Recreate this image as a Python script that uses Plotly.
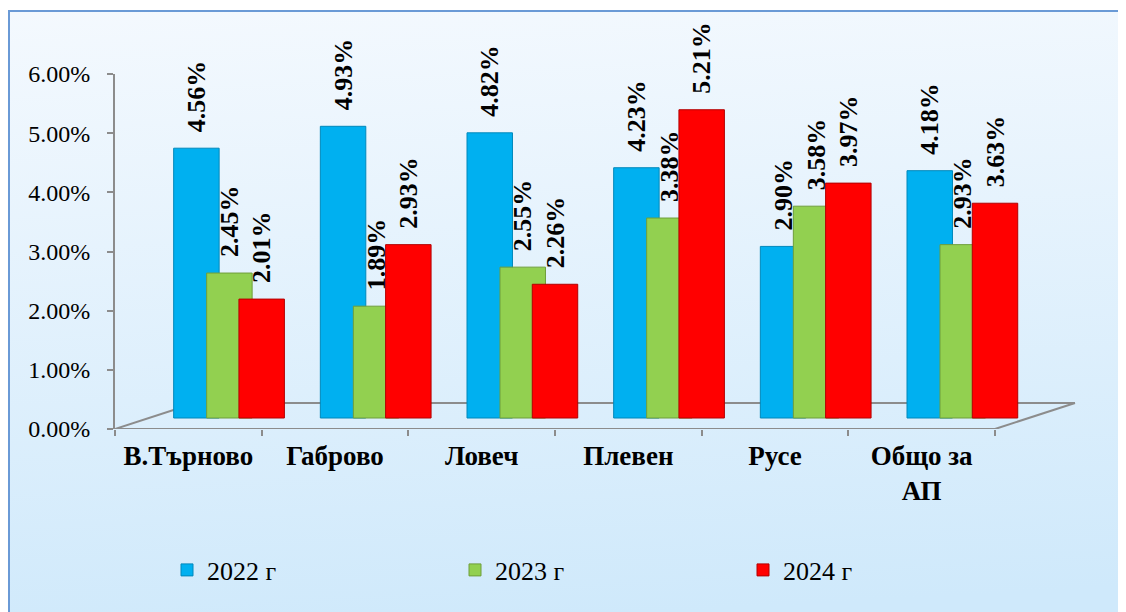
import base64
import plotly.graph_objects as go

categories = ["В.Търново", "Габрово", "Ловеч", "Плевен", "Русе", "Общо за<br>АП"]
series_names = ["2022 г", "2023 г", "2024 г"]
values_2022 = [4.56, 4.93, 4.82, 4.23, 2.90, 4.18]
values_2023 = [2.45, 1.89, 2.55, 3.38, 3.58, 2.93]
values_2024 = [2.01, 2.93, 2.26, 5.21, 3.97, 3.63]
tick_values = [0, 1, 2, 3, 4, 5, 6]

colors = ["#00b0f0", "#92d050", "#ff0000"]
edge_colors = ["#0088bb", "#6f9e3a", "#b30000"]
offsets = [-0.10, 0.125, 0.345]
bar_width = 0.31
FONT = "'Liberation Serif', 'Times New Roman', Tinos, 'DejaVu Serif', serif"

W, H = 1126, 612
PAGE = 8  # html body margin offset


def fx(p):  # screen px -> figure px
    return p - PAGE


# plot area in screen px
SL, SR, ST, SB = 115, 1080, 74, 429
L, R, T, B = fx(SL), W - fx(SR), fx(ST), H - fx(SB)
pw, ph = W - L - R, H - T - B
cat_px = 880 / 6.0
x_max = 5.5 + (SR - 115 - 880) / cat_px
y_px = ph / 6.0
bar_shift = 11 / y_px

fig = go.Figure()
for name, vals, col, ec, off in zip(series_names, [values_2022, values_2023, values_2024],
                                    colors, edge_colors, offsets):
    fig.add_trace(go.Bar(
        x=categories, y=vals, name=name, yaxis="y2",
        offset=off, width=bar_width,
        marker=dict(color=col, line=dict(color=ec, width=1)),
        texttemplate="\u00a0\u00a0%{y:.2f}%", textposition="outside", textangle=-90,
        constraintext="none", cliponaxis=False,
        textfont=dict(family=FONT, size=26, color="black", weight="bold"),
    ))

# gradient background
svg = ('<svg xmlns="http://www.w3.org/2000/svg" width="100" height="100" viewBox="0 0 100 100" '
       'preserveAspectRatio="none"><defs><linearGradient id="g" x1="0" y1="0" x2="0.1" y2="1">'
       '<stop offset="0" stop-color="#f4f9fe"/><stop offset="1" stop-color="#cfe9fb"/>'
       '</linearGradient></defs><rect width="100" height="100" fill="url(#g)"/></svg>')
src = "data:image/svg+xml;base64," + base64.b64encode(svg.encode()).decode()


def px_x(p):  # screen px -> paper x
    return (fx(p) - L) / pw


def px_y(p):  # screen px -> paper y
    return (H - B - fx(p)) / ph


images = [dict(source=src, xref="paper", yref="paper",
               x=px_x(8), y=px_y(10), sizex=(W + 20) / pw, sizey=(H + 20) / ph,
               xanchor="left", yanchor="top", sizing="stretch", layer="below")]

floor_y = 26 / y_px
back_dx = 80 / cat_px
line_style = dict(color="#8c8c8c", width=2)
shapes = [
    dict(type="rect", xref="paper", yref="paper", x0=px_x(9), y0=px_y(11), x1=px_x(W + 40),
         y1=px_y(H + 40), line=dict(color="#6a9ad6", width=2), fillcolor="rgba(0,0,0,0)", layer="below"),
    dict(type="line", xref="x", yref="y", x0=-0.5, y0=0, x1=-0.5 + back_dx, y1=floor_y,
         line=line_style, layer="below"),
    dict(type="line", xref="x", yref="y", x0=-0.5 + back_dx, y0=floor_y, x1=5.5 + back_dx, y1=floor_y,
         line=line_style, layer="below"),
    dict(type="line", xref="x", yref="y", x0=5.5 + back_dx, y0=floor_y, x1=5.5, y1=0,
         line=line_style, layer="below"),
    dict(type="line", xref="x", yref="y", x0=-0.5, y0=0, x1=5.5, y1=0,
         line=line_style, layer="below"),
]

fig.update_layout(
    width=W, height=H,
    margin=dict(l=L, r=R, t=T, b=B, autoexpand=False),
    paper_bgcolor="white", plot_bgcolor="rgba(0,0,0,0)",
    font=dict(family=FONT),
    barmode="overlay",
    images=images, shapes=shapes,
    xaxis=dict(type="category", range=[-0.5, x_max], showline=False, showgrid=False, zeroline=False,
               automargin=False,
               ticks="outside", tickson="boundaries", ticklen=6, tickcolor="#8c8c8c", tickwidth=2,
               ticklabelstandoff=8,
               tickfont=dict(family=FONT, size=27, color="black", weight="bold")),
    yaxis=dict(range=[0, 6], tickvals=tick_values, ticktext=[f"{v:.2f}%" for v in tick_values],
               automargin=False,
               showline=True, linecolor="#8c8c8c", linewidth=2, showgrid=False, zeroline=False,
               ticks="outside", ticklen=6, tickcolor="#8c8c8c", tickwidth=2, ticklabelstandoff=12,
               tickfont=dict(family=FONT, size=24, color="black")),
    yaxis2=dict(range=[-bar_shift, 6 - bar_shift], overlaying="y", visible=False),
    legend=dict(orientation="h", xref="container", yref="container",
                x=fx(599) / W, xanchor="center", y=1 - fx(570) / H, yanchor="middle",
                entrywidth=243, entrywidthmode="pixels", bgcolor="rgba(0,0,0,0)",
                font=dict(family=FONT, size=26, color="black"), itemwidth=30),
    showlegend=True,
)

fig.write_html("out.html")
